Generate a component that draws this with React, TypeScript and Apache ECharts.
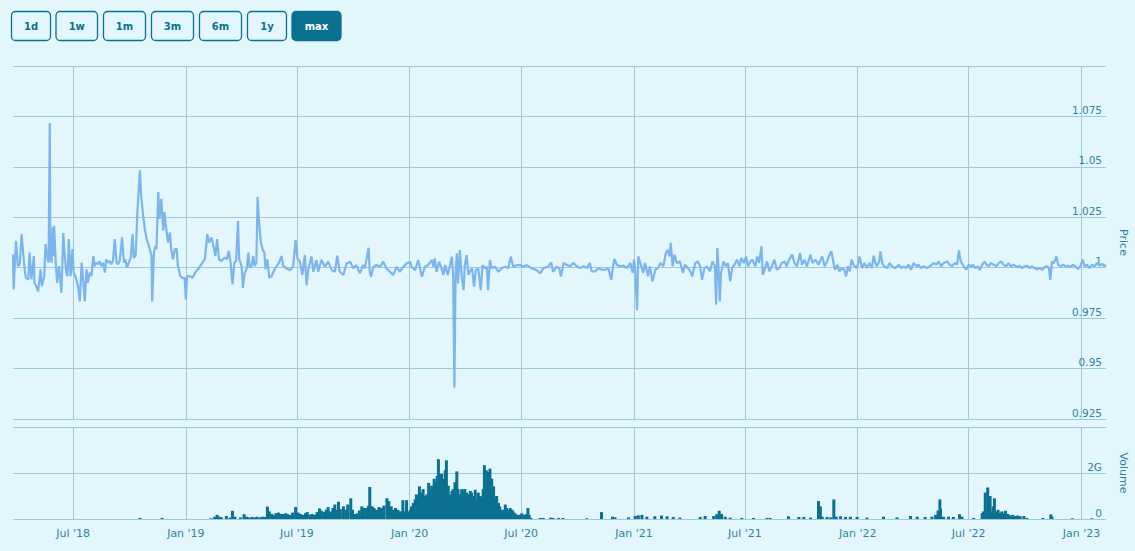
import React, { useEffect, useRef } from "react";
import * as echarts from "echarts";

// ---------- data ----------
const START = "2018-03-25"; // first sample / axis min
const END = "2023-02-10"; // axis max
const DAY_MS = 86400000;

const tickDates = [
  "2018-07-01", "2019-01-01", "2019-07-01", "2020-01-01", "2020-07-01",
  "2021-01-01", "2021-07-01", "2022-01-01", "2022-07-01", "2023-01-01",
];
const monthNames = ["Jan", "Feb", "Mar", "Apr", "May", "Jun", "Jul", "Aug", "Sep", "Oct", "Nov", "Dec"];
const rangeButtons = ["1d", "1w", "1m", "3m", "6m", "1y", "max"];
const selectedButton = "max";

// [days since START, price]
const price2018: [number, number][] = [
  [0, 1.0067], [1, 0.9892], [3, 1.0017], [5, 1.0133], [8, 1.0008], [11, 1.0017], [14, 1.0167], [16, 1.0092],
  [19, 0.9992], [21, 0.995], [25, 0.9942], [27, 1.0075], [30, 0.9942], [34, 1.0058], [35, 0.9925], [38, 0.9908],
  [41, 0.9883], [45, 0.9992], [47, 0.9908], [51, 0.9958], [53, 1.0117], [56, 1.005], [58, 1.0025], [60, 1.0717],
  [61, 1.0058], [63, 1.0025], [65, 1.02], [66, 1.0058], [67, 1.0208], [70, 1.0008], [72, 0.9925], [75, 1.0008],
  [79, 0.9875], [82, 1.0172], [84, 1.0075], [87, 0.9975], [89, 0.9958], [91, 1.0142], [94, 0.9958], [97, 1.0092],
  [99, 0.9975], [102, 0.9958], [106, 0.9908], [109, 0.9833], [112, 1.0025], [114, 0.9958], [117, 0.9833],
  [120, 0.9992], [122, 0.9925], [125, 0.9975], [128, 0.9958], [131, 1.0058], [133, 1.0008], [136, 1.0025],
  [139, 1.0017], [141, 1.0033], [144, 1.0008], [147, 1.0025], [150, 0.9975], [152, 1.0042], [155, 1.0025],
  [158, 1.0033], [160, 1.0017], [163, 1.0033], [166, 1.0142], [169, 1.0025], [171, 1.0017], [174, 1.0033],
  [178, 1.015], [181, 1.0025], [183, 1.0042], [186, 1.0], [189, 1.0025], [192, 1.005], [195, 1.0167], [197, 1.005],
  [200, 1.0058], [203, 1.0283], [207, 1.0483], [209, 1.0358], [212, 1.0267], [215, 1.0192], [218, 1.0142],
  [220, 1.0125], [223, 1.0092], [226, 1.0058], [227, 0.9833], [230, 1.0075], [232, 1.0108], [234, 1.0092],
  [237, 1.0375], [239, 1.0242], [242, 1.0342], [245, 1.0183], [247, 1.0275], [250, 1.0192], [253, 1.0125],
  [256, 1.0175], [258, 1.0092], [261, 1.0042], [264, 1.0092], [267, 1.0092], [269, 1.0008], [273, 0.9958],
  [276, 0.995], [280, 0.995], [282, 0.9842], [284, 0.9958], [288, 0.9958], [293, 0.995], [297, 0.9975],
  [302, 0.9992], [307, 1.0017], [313, 1.0042], [317, 1.0167], [320, 1.0125], [324, 1.015], [328, 1.0092],
  [330, 1.0058], [333, 1.0142], [336, 1.0042], [340, 1.0033], [345, 1.005], [349, 1.0042], [352, 1.0083],
  [355, 1.0025], [358, 0.9917], [361, 1.0025], [364, 1.0033], [367, 1.0233], [369, 1.0042], [373, 1.0008],
  [375, 0.99], [378, 0.9975], [381, 0.9992], [384, 1.0075], [386, 1.0], [389, 1.0008], [392, 1.0058],
  [394, 1.0008], [397, 1.0025], [399, 1.035], [401, 1.0242], [404, 1.0133], [407, 1.0092], [410, 1.0075],
  [412, 0.9992], [415, 1.0042], [418, 0.995], [422, 0.9958], [424, 0.9975], [427, 0.9992], [430, 1.0008],
  [434, 1.0025], [438, 1.0058], [441, 1.0008], [445, 1.0], [449, 0.9992],
];

const price2019: [number, number][] = [
  [452, 0.9988], [457, 1.0005], [461, 1.0137], [464, 1.0046], [468, 1.003], [472, 0.9964], [476, 1.0063],
  [479, 0.9914], [482, 0.9997], [487, 1.0055], [490, 0.998], [495, 1.0038], [498, 0.998], [503, 1.0038],
  [509, 1.0005], [514, 1.003], [520, 0.9988], [525, 0.998], [529, 1.006], [533, 0.998], [539, 0.9964],
  [544, 1.0021], [550, 1.003], [555, 0.9997], [560, 1.0013], [566, 0.9972], [571, 1.0013], [574, 0.9997],
  [580, 1.0099], [582, 0.998], [584, 0.9955], [588, 1.0005], [593, 1.0013], [599, 1.0005], [604, 1.003],
  [609, 0.9997], [615, 0.998], [620, 0.9964], [626, 1.0005], [631, 0.998], [637, 1.0005], [642, 1.0021],
  [648, 1.003], [650, 1.0005], [656, 0.9988], [661, 1.0038], [667, 0.9955], [672, 1.0005], [677, 1.0013],
  [683, 1.0038], [686, 1.0005], [688, 1.0046], [691, 0.998], [695, 1.003], [699, 0.9997], [702, 0.9964],
  [705, 1.0013], [709, 0.9964], [713, 1.0013], [716, 1.0055], [718, 0.9964], [720, 0.9405], [722, 0.9964],
  [724, 1.0071], [726, 0.9922], [729, 1.0088], [732, 0.9955], [735, 0.9889], [737, 1.0013], [740, 1.0063],
  [743, 0.9964], [745, 0.998], [749, 0.9997], [752, 0.9906], [755, 0.9988], [759, 0.9997], [763, 0.9889],
  [766, 1.0013], [770, 0.9997], [773, 1.0005], [775, 0.9889], [778, 1.0038], [781, 0.9997], [786, 1.0005],
  [792, 0.998], [797, 0.9997], [803, 1.0005], [808, 0.9997], [812, 1.0055], [816, 1.0005], [822, 1.0013],
  [827, 1.0013], [833, 1.0005], [838, 1.0013], [846, 0.9997], [854, 0.9988], [860, 0.9972], [865, 0.9997],
  [873, 1.0005], [878, 1.0026], [881, 0.998], [887, 1.0005], [891, 0.9997],
];

const price2020: [number, number][] = [
  [894, 0.9957], [898, 1.0023], [903, 1.0015], [909, 1.0007], [914, 1.0023], [920, 1.0007], [925, 0.9998],
  [931, 1.0007], [936, 0.9998], [941, 1.0023], [944, 0.9982], [950, 0.9982], [955, 0.9998], [961, 0.999],
  [966, 0.999], [971, 0.9998], [976, 0.994], [978, 0.999], [981, 1.0043], [985, 1.0015], [990, 1.0007],
  [996, 1.001], [1001, 0.9998], [1007, 1.0023], [1011, 0.9974], [1013, 1.004], [1015, 0.999], [1018, 0.9791],
  [1020, 1.0056], [1025, 1.0007], [1028, 0.9974], [1031, 1.0023], [1036, 0.9957], [1039, 1.0007], [1043, 0.9932],
  [1048, 0.999], [1052, 0.9998], [1056, 1.0023], [1061, 1.0007], [1065, 1.0073], [1068, 1.0089], [1071, 1.0056],
  [1073, 1.0123], [1076, 1.0007], [1079, 1.0065], [1083, 1.0023], [1088, 1.0031], [1093, 0.9974], [1096, 1.0015],
  [1101, 0.9998], [1105, 0.9982], [1108, 0.9957], [1113, 1.0023], [1117, 1.0031], [1121, 1.0007], [1124, 0.994],
  [1128, 0.9998], [1132, 1.0007], [1137, 0.9982], [1141, 1.0031], [1145, 1.0007], [1147, 0.9816], [1149, 1.0098],
  [1151, 0.9998], [1153, 0.9833], [1155, 0.9974], [1159, 1.0031], [1163, 1.0007], [1166, 1.0023], [1170, 0.9932],
  [1173, 0.9998], [1177, 1.0015], [1181, 1.004], [1185, 1.0007], [1188, 1.0048], [1192, 1.0023], [1196, 1.0056],
  [1199, 1.0007], [1203, 1.0031], [1206, 1.004], [1211, 1.0007], [1214, 1.0056], [1217, 1.0023], [1221, 1.0106],
  [1223, 0.9965], [1226, 0.999], [1230, 1.0031], [1234, 0.9982], [1238, 1.0007], [1242, 1.004], [1246, 0.999],
  [1250, 0.9998], [1254, 1.0023], [1259, 1.0031], [1262, 1.0007], [1266, 1.004], [1271, 1.0065], [1275, 1.0023],
  [1279, 1.0007], [1284, 1.0073], [1287, 1.0015], [1291, 1.004], [1295, 1.0007], [1301, 1.0065], [1304, 1.0023],
  [1309, 1.004], [1314, 1.0015], [1320, 1.0056], [1324, 1.0007], [1328, 1.0031], [1332, 1.0065], [1335, 1.0081],
  [1339, 1.0015],
];

const price2022: [number, number][] = [
  [1341, 0.999], [1345, 1.0015], [1348, 0.9982], [1352, 0.9998], [1356, 0.999], [1359, 0.9957], [1362, 1.0007],
  [1365, 0.9982], [1368, 1.004], [1371, 1.0015], [1376, 0.9998], [1379, 1.0023], [1381, 1.0056], [1385, 0.9998],
  [1389, 1.0023], [1393, 0.9998], [1397, 1.0023], [1401, 0.9998], [1404, 1.006], [1407, 1.0023], [1409, 1.0007],
  [1413, 1.0031], [1415, 1.0081], [1418, 1.0023], [1421, 1.0007], [1426, 0.9998], [1430, 1.0023], [1434, 1.0007],
  [1439, 0.9998], [1445, 1.0015], [1449, 0.9998], [1453, 1.0007], [1457, 0.9998], [1461, 1.0015], [1465, 0.999],
  [1469, 1.0023], [1474, 1.0007], [1477, 1.0015], [1481, 0.9998], [1486, 1.0007], [1491, 0.9998], [1496, 1.0007],
  [1502, 1.0023], [1506, 1.0015], [1510, 1.0031], [1514, 1.0007], [1518, 1.0023], [1524, 1.0031], [1528, 1.0015],
  [1532, 1.0007], [1536, 1.0023], [1540, 1.0015], [1543, 1.0086], [1546, 1.0031], [1551, 1.0007], [1555, 0.999],
  [1559, 1.0015], [1563, 1.0007], [1566, 1.0015], [1570, 0.9998], [1574, 1.0007], [1577, 0.999], [1581, 1.0015],
  [1585, 1.0031], [1588, 1.0015], [1592, 1.0007], [1595, 1.0023], [1600, 1.0015], [1604, 1.0007], [1608, 1.0023],
  [1612, 1.0031], [1616, 1.0015], [1620, 1.0007], [1624, 1.0023], [1628, 1.0007], [1632, 1.0015], [1638, 1.0003],
  [1642, 1.001], [1646, 0.9998], [1650, 1.0007], [1654, 1.001], [1659, 0.9998], [1662, 1.0007], [1666, 0.9998],
  [1671, 0.9993], [1675, 0.9998], [1679, 0.999], [1683, 1.0003], [1687, 1.0007], [1690, 0.9998], [1692, 0.994],
  [1695, 1.0031], [1698, 1.0023], [1702, 1.0056], [1705, 1.0015], [1709, 1.0007], [1713, 1.0015], [1717, 1.0007],
  [1721, 1.001], [1725, 1.0003], [1729, 1.0015], [1733, 1.0007], [1737, 0.9993], [1741, 1.0007], [1745, 1.004],
  [1748, 1.0007], [1752, 1.0015], [1756, 0.9998], [1760, 1.0015], [1764, 1.0007], [1768, 1.0023], [1773, 1.001],
  [1777, 1.002], [1780, 1.0007], [1783, 1.0015],
];

// [days since START, volume in billions]
const volume2018_19: [number, number][] = [
  [207, 0.045], [243, 0.045], [323, 0.03], [329, 0.1], [333, 0.18], [337, 0.1], [340, 0.07], [348, 0.13],
  [354, 0.06], [358, 0.36], [362, 0.1], [371, 0.07], [377, 0.21], [381, 0.1], [385, 0.07], [390, 0.09],
  [394, 0.07], [398, 0.1], [403, 0.07], [407, 0.1], [411, 0.09], [415, 0.54], [418, 0.33], [422, 0.22],
  [426, 0.18], [429, 0.25], [433, 0.28], [437, 0.22], [441, 0.22], [445, 0.25], [448, 0.21], [452, 0.18],
  [456, 0.28], [461, 0.52], [465, 0.28], [469, 0.22], [473, 0.18], [477, 0.25], [480, 0.3], [484, 0.19],
  [488, 0.22], [492, 0.18], [496, 0.3], [500, 0.46], [503, 0.36], [507, 0.31], [511, 0.4], [514, 0.52],
  [518, 0.33], [522, 0.48], [525, 0.63], [528, 0.4], [531, 0.75], [534, 0.43], [539, 0.55], [543, 0.4],
  [546, 0.63], [551, 0.9], [554, 0.4], [558, 0.22], [562, 0.25], [565, 0.37], [569, 0.55], [573, 0.48],
  [577, 0.48], [580, 0.58], [582, 1.39], [586, 0.55], [589, 0.48], [593, 0.4], [597, 0.52], [601, 0.48],
  [605, 0.58], [610, 0.9], [613, 0.78], [617, 0.55], [620, 0.4], [624, 0.48], [628, 0.4],
];

const volume2020: [number, number][] = [
  [631, 0.33], [634, 0.33], [636, 0.82], [639, 0.33], [642, 0.82], [645, 0.33], [648, 0.4], [650, 0.55],
  [653, 0.7], [656, 0.85], [658, 1.07], [661, 0.93], [663, 1.42], [665, 1.15], [667, 1.0], [669, 1.3],
  [672, 1.0], [675, 1.07], [678, 1.57], [680, 1.3], [683, 1.45], [686, 1.37], [687, 1.75], [690, 1.6],
  [692, 1.87], [694, 2.6], [697, 1.9], [699, 1.97], [702, 1.75], [705, 2.12], [707, 2.55], [710, 1.45],
  [713, 1.07], [716, 1.22], [718, 1.3], [721, 1.6], [724, 2.07], [726, 1.3], [729, 1.07], [732, 1.3],
  [735, 1.22], [737, 1.3], [740, 1.15], [743, 1.07], [746, 1.22], [748, 1.15], [751, 1.0], [754, 1.27],
  [756, 0.85], [759, 1.15], [762, 1.0], [765, 0.93], [767, 1.3], [769, 2.34], [772, 2.12], [774, 1.6],
  [775, 2.04], [778, 2.19], [781, 1.75], [784, 1.42], [786, 0.93], [789, 1.0], [792, 0.7], [794, 0.55],
  [797, 0.4], [800, 0.4], [803, 0.63], [805, 0.48], [808, 0.4], [811, 0.48], [814, 0.4], [816, 0.33],
  [819, 0.25], [822, 0.18], [824, 0.18], [827, 0.18], [830, 0.25], [834, 0.18], [837, 0.21], [840, 0.48],
  [842, 0.18], [845, 0.045], [860, 0.045], [865, 0.045], [877, 0.06], [881, 0.045], [890, 0.045], [897, 0.045],
];

const volume2021_23: [number, number][] = [
  [936, 0.03], [960, 0.3], [978, 0.1], [982, 0.07], [1004, 0.07], [1015, 0.13], [1020, 0.16], [1026, 0.18],
  [1034, 0.1], [1047, 0.12], [1058, 0.15], [1067, 0.12], [1077, 0.09], [1088, 0.06], [1121, 0.09], [1129, 0.13],
  [1143, 0.13], [1148, 0.21], [1152, 0.36], [1156, 0.22], [1162, 0.1], [1170, 0.06], [1189, 0.045], [1208, 0.045],
  [1230, 0.045], [1235, 0.045], [1265, 0.12], [1282, 0.09], [1290, 0.09], [1301, 0.06], [1314, 0.78], [1317, 0.55],
  [1320, 0.1], [1328, 0.09], [1334, 0.07], [1339, 0.85], [1343, 0.1], [1350, 0.12], [1358, 0.09], [1366, 0.1],
  [1377, 0.09], [1393, 0.06], [1420, 0.1], [1442, 0.07], [1464, 0.13], [1475, 0.1], [1488, 0.09], [1499, 0.1],
  [1505, 0.18], [1509, 0.37], [1512, 0.85], [1513, 0.45], [1518, 0.1], [1526, 0.1], [1534, 0.09], [1544, 0.21],
  [1548, 0.1], [1567, 0.045], [1581, 0.25], [1583, 0.33], [1586, 1.15], [1590, 1.37], [1592, 0.4], [1594, 1.0],
  [1596, 0.33], [1599, 0.55], [1601, 0.9], [1604, 0.33], [1607, 0.4], [1610, 0.25], [1613, 0.33], [1616, 0.25],
  [1619, 0.36], [1623, 0.22], [1627, 0.16], [1631, 0.18], [1635, 0.13], [1639, 0.15], [1643, 0.12], [1649, 0.13],
  [1654, 0.045], [1680, 0.045], [1693, 0.2], [1695, 0.1], [1728, 0.03], [1760, 0.03],
];

// ---------- styles / layout ----------
const BG = "#e3f6fc";
const GRID = "#9fcbd6";
const TEAL = "#0a7191";
const LABEL = "#2f84a0";
const LINE = "#7cb5ec";
const FONT = '"DejaVu Sans", "Noto Sans", sans-serif';
const BUTTON_X = [11.5, 56, 103.5, 151.5, 199.5, 247.5, 292];
const BUTTON_W = [39, 41.5, 42, 42, 42, 39, 49];

const startMs = new Date(START).getTime();
const endMs = new Date(END).getTime();
const toTime = (pts: [number, number][]) => pts.map(([d, v]) => [startMs + d * DAY_MS, v]);
const ticks = tickDates.map((s) => new Date(s).getTime());

function fmtDate(v: number) {
  const dt = new Date(v);
  return `${monthNames[dt.getUTCMonth()]} '${String(dt.getUTCFullYear()).slice(2)}`;
}

function buildButtons() {
  const items: any[] = [];
  rangeButtons.forEach((label, i) => {
    const x = BUTTON_X[i];
    const w = BUTTON_W[i];
    const sel = label === selectedButton;
    items.push({
      type: "rect",
      shape: { x, y: 11.5, width: w, height: 29, r: 4 },
      style: { fill: sel ? TEAL : "rgba(0,0,0,0)", stroke: TEAL, lineWidth: 1.3 },
    });
    items.push({
      type: "text",
      x: x + w / 2,
      y: 26,
      style: {
        text: label,
        fill: sel ? "#ffffff" : TEAL,
        font: `bold 10px ${FONT}`,
        align: "center",
        verticalAlign: "middle",
      },
    });
  });
  return items;
}

export default function App() {
  const ref = useRef<HTMLDivElement>(null);
  useEffect(() => {
    if (!ref.current) return;
    const chart = echarts.init(ref.current, null, { renderer: "svg" });
    const priceData = toTime([...price2018, ...price2019, ...price2020, ...price2022]);
    const volData = toTime([...volume2018_19, ...volume2020, ...volume2021_23]);
    const xBase = {
      type: "value",
      min: startMs,
      max: endMs,
      scale: true,
      axisLine: { show: false },
      axisTick: { show: false, customValues: ticks },
      splitLine: { show: true, lineStyle: { color: GRID, width: 1 } },
    };
    chart.setOption({
      animation: false,
      backgroundColor: BG,
      textStyle: { fontFamily: FONT },
      graphic: buildButtons(),
      grid: [
        { left: 13, right: 29, top: 66, height: 353, outerBoundsMode: "none", containLabel: false },
        { left: 13, right: 29, top: 427, height: 92, outerBoundsMode: "none", containLabel: false },
      ],
      xAxis: [
        { ...xBase, gridIndex: 0, axisLabel: { show: false, customValues: ticks } },
        {
          ...xBase,
          gridIndex: 1,
          axisLabel: {
            show: true,
            customValues: ticks,
            formatter: (v: number) => fmtDate(v),
            color: LABEL,
            fontSize: 11,
            margin: 9,
          },
        },
      ],
      yAxis: [
        {
          type: "value",
          gridIndex: 0,
          position: "right",
          min: 0.925,
          max: 1.1,
          interval: 0.025,
          axisLine: { show: false },
          axisTick: { show: false },
          splitLine: { show: true, lineStyle: { color: GRID, width: 1 } },
          axisLabel: {
            inside: true,
            margin: 4,
            color: LABEL,
            fontSize: 10.5,
            verticalAlign: "bottom",
            padding: [0, 0, 1, 0],
            formatter: (v: number) => (v > 1.09 ? "" : String(+v.toFixed(3))),
          },
          name: "Price",
          nameLocation: "middle",
          nameRotate: -90,
          nameGap: 12,
          nameTextStyle: { color: LABEL, fontSize: 11 },
        },
        {
          type: "value",
          gridIndex: 1,
          position: "right",
          min: 0,
          max: 4,
          interval: 2,
          axisLine: { show: false },
          axisTick: { show: false },
          splitLine: { show: true, lineStyle: { color: GRID, width: 1 } },
          axisLabel: {
            inside: true,
            margin: 4,
            color: LABEL,
            fontSize: 10.5,
            verticalAlign: "bottom",
            padding: [0, 0, 1, 0],
            formatter: (v: number) => (v === 0 ? "0" : v === 2 ? "2G" : ""),
          },
          name: "Volume",
          nameLocation: "middle",
          nameRotate: -90,
          nameGap: 12,
          nameTextStyle: { color: LABEL, fontSize: 11 },
        },
      ],
      series: [
        {
          type: "line",
          name: "Price",
          xAxisIndex: 0,
          yAxisIndex: 0,
          data: priceData,
          showSymbol: false,
          symbol: "none",
          lineStyle: { color: LINE, width: 2.2 },
          itemStyle: { color: LINE },
          z: 5,
        },
        {
          type: "bar",
          name: "Volume",
          xAxisIndex: 1,
          yAxisIndex: 1,
          data: volData,
          barWidth: 3,
          itemStyle: { color: TEAL },
          z: 5,
        },
      ],
    });
    return () => chart.dispose();
  }, []);
  return (
    <div
      ref={ref}
      style={{ position: "fixed", left: 0, top: 0, width: 1135, height: 551, background: BG }}
    />
  );
}
